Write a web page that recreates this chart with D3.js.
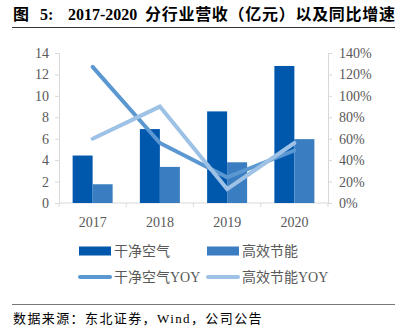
<!DOCTYPE html>
<html><head><meta charset="utf-8">
<script src="https://cdn.jsdelivr.net/npm/d3@7"></script>
<style>body{margin:0;background:#fff}svg{display:block}</style>
</head><body>
<script>
const categories = ["2017","2018","2019","2020"];
const cleanAir = [4.43, 6.9, 8.55, 12.79];
const efficiency = [1.75, 3.37, 3.8, 5.96];
const cleanAirYoY = [127, 56, 24, 49];
const efficiencyYoY = [60, 90, 13, 56];
const leftTicks = [0,2,4,6,8,10,12,14];
const rightTicks = [0,20,40,60,80,100,120,140];
const seriesNames = ["干净空气","高效节能","干净空气YOY","高效节能YOY"];
const titleParts = ["图","5:","2017-2020","分行业营收（亿元）以及同比增速"];
const sourceText = "数据来源：东北证券，Wind，公司公告";

const W=404,H=331;
const FONT='"Liberation Serif","Noto Sans CJK SC",serif';
const svg=d3.select("body").append("svg").attr("width",W).attr("height",H);
const c1="#0058AC",c2="#3A7DC1",c3="#5B97D1",c4="#9DC2E5";

const tt=svg.append("text").attr("y",20).attr("font-family",FONT).attr("fill","#000");
tt.append("tspan").attr("x",13).attr("font-size",16).attr("font-weight","bold").text(titleParts[0]);
tt.append("tspan").attr("x",40).attr("font-size",16).attr("font-weight","bold").text(titleParts[1]);
tt.append("tspan").attr("x",68).attr("font-size",16).attr("font-weight","bold").text(titleParts[2]);
tt.append("tspan").attr("x",145).attr("font-size",16).attr("font-weight","bold").attr("textLength",250).attr("lengthAdjust","spacing").text(titleParts[3]);
svg.append("line").attr("x1",12).attr("x2",395).attr("y1",27.5).attr("y2",27.5).attr("stroke","#333").attr("stroke-width",1.2);

const x0=59,x1=328,yTop=53,yBot=203;
const x=d3.scaleBand().domain(categories).range([x0,x1]).paddingInner(0).paddingOuter(0);
const yL=d3.scaleLinear().domain([0,14]).range([yBot,yTop]);
const yR=d3.scaleLinear().domain([0,140]).range([yBot,yTop]);

const g=svg.append("g");
const axL=d3.axisLeft(yL).tickValues(leftTicks).tickSize(4).tickPadding(6);
const gl=g.append("g").attr("transform",`translate(${x0},0)`).call(axL);
const axR=d3.axisRight(yR).tickValues(rightTicks).tickFormat(d=>d+"%").tickSize(4).tickPadding(7);
const gr=g.append("g").attr("transform",`translate(${x1},0)`).call(axR);
const axB=d3.axisBottom(x).tickSize(4).tickPadding(10);
const gb=g.append("g").attr("transform",`translate(0,${yBot})`).call(axB);
gb.selectAll(".tick line").remove();
gb.selectAll(".bnd").data(d3.range(categories.length+1)).enter().append("line")
  .attr("x1",i=>x0+i*x.bandwidth()).attr("x2",i=>x0+i*x.bandwidth()).attr("y1",0).attr("y2",4).attr("stroke","#d9d9d9");
[gl,gr,gb].forEach(a=>{
  a.selectAll(".domain").attr("stroke","#d9d9d9");
  a.selectAll(".tick line").attr("stroke","#d9d9d9");
  a.selectAll("text").attr("font-family",FONT).attr("font-size",14).attr("fill","#595959");
});
gb.select(".domain").attr("d",`M${x0},0H${x1}`);

const bw=20;
g.selectAll(".b1").data(cleanAir).enter().append("rect")
  .attr("x",(d,i)=>x(categories[i])+x.bandwidth()/2-bw).attr("width",bw)
  .attr("y",d=>yL(d)).attr("height",d=>yBot-yL(d)).attr("fill",c1);
g.selectAll(".b2").data(efficiency).enter().append("rect")
  .attr("x",(d,i)=>x(categories[i])+x.bandwidth()/2).attr("width",bw)
  .attr("y",d=>yL(d)).attr("height",d=>yBot-yL(d)).attr("fill",c2);

const line=d3.line().x((d,i)=>x(categories[i])+x.bandwidth()/2).y(d=>yR(d));
g.append("path").datum(cleanAirYoY).attr("d",line).attr("fill","none").attr("stroke",c3).attr("stroke-width",4).attr("stroke-linecap","round");
g.append("path").datum(efficiencyYoY).attr("d",line).attr("fill","none").attr("stroke",c4).attr("stroke-width",4).attr("stroke-linecap","round");

const leg=[{n:seriesNames[0],c:c1,t:"rect",x:79,y:251},{n:seriesNames[1],c:c2,t:"rect",x:207,y:251},
  {n:seriesNames[2],c:c3,t:"line",x:79,y:277},{n:seriesNames[3],c:c4,t:"line",x:207,y:277}];
leg.forEach(l=>{
  if(l.t==="rect") svg.append("rect").attr("x",l.x).attr("y",l.y-4.5).attr("width",32).attr("height",9).attr("fill",l.c);
  else svg.append("line").attr("x1",l.x+1).attr("x2",l.x+31).attr("y1",l.y).attr("y2",l.y).attr("stroke",l.c).attr("stroke-width",4).attr("stroke-linecap","round");
  svg.append("text").attr("x",l.x+35).attr("y",l.y+5).attr("font-family",FONT).attr("font-size",14).attr("fill","#595959").text(l.n);
});

svg.append("line").attr("x1",12).attr("x2",395).attr("y1",304.5).attr("y2",304.5).attr("stroke","#777").attr("stroke-width",1.2);
svg.append("text").attr("x",13).attr("y",323).attr("font-family",FONT).attr("font-size",13)
  .attr("letter-spacing",1.4).attr("fill","#000").text(sourceText);
</script>
</body></html>
